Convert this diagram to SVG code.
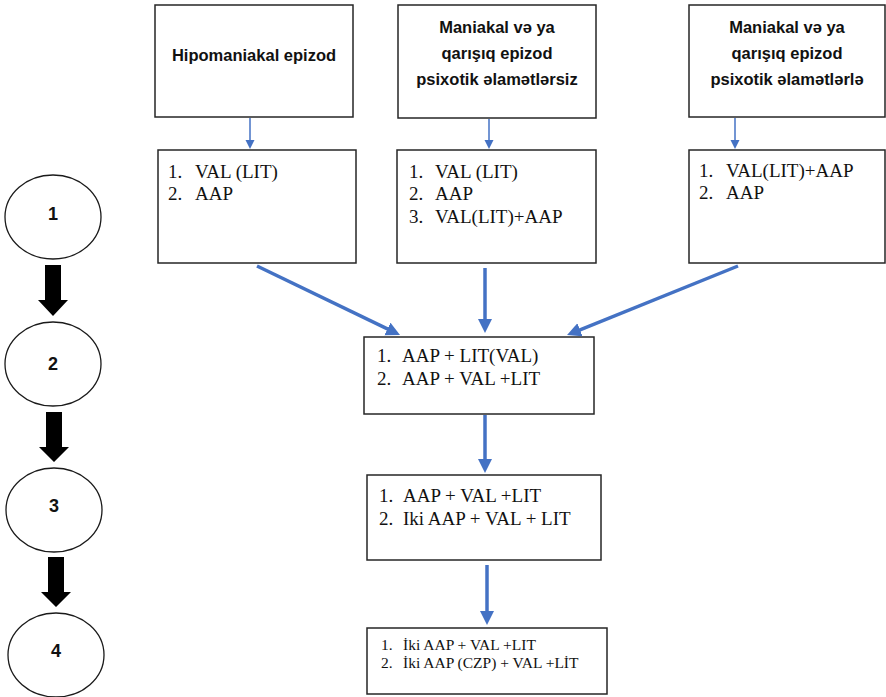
<svg xmlns="http://www.w3.org/2000/svg" width="886" height="697" viewBox="0 0 886 697">
<style>
.box{fill:#fff;stroke:#262626;stroke-width:1.5}
.ell{fill:#fff;stroke:#1a1a1a;stroke-width:1.3}
.hd{font-family:"Liberation Sans",Arial,sans-serif;font-weight:bold;font-size:16.5px;fill:#111;text-anchor:middle}
.num{font-family:"Liberation Sans",Arial,sans-serif;font-weight:bold;font-size:18px;fill:#111;text-anchor:middle}
.tx{font-family:"Liberation Serif","Times New Roman",serif;font-size:19px;fill:#111}
.tx4{font-family:"Liberation Serif","Times New Roman",serif;font-size:15.5px;fill:#111}
.thin{stroke:#4472C4;stroke-width:1.5;fill:none}
.thick{stroke:#4472C4;stroke-width:3.5;fill:none}
.blk{fill:#000}
</style>
<defs>
<marker id="ahs" markerUnits="userSpaceOnUse" markerWidth="10" markerHeight="10" refX="6" refY="4.5" orient="auto"><path d="M0,0 L9,4.5 L0,9 z" fill="#4472C4"/></marker>
<marker id="ahb" markerUnits="userSpaceOnUse" markerWidth="16" markerHeight="16" refX="4" refY="7" orient="auto"><path d="M0,0 L14,7 L0,14 z" fill="#4472C4"/></marker>
</defs>

<g id="stage1"><ellipse class="ell" cx="53" cy="217" rx="48" ry="42"/><text class="num" x="53" y="220">1</text></g>
<g id="stage2"><ellipse class="ell" cx="53" cy="364" rx="48" ry="42"/><text class="num" x="53" y="370">2</text></g>
<g id="stage3"><ellipse class="ell" cx="54" cy="510" rx="48" ry="42"/><text class="num" x="54" y="512">3</text></g>
<g id="stage4"><ellipse class="ell" cx="56" cy="655" rx="48" ry="42"/><text class="num" x="56" y="657">4</text></g>

<g id="hipo"><rect class="box" x="155" y="5" width="198" height="112"/><text class="hd" x="254" y="61">Hipomaniakal epizod</text></g>
<g id="manik1"><rect class="box" x="398" y="5" width="198" height="113"/>
<text class="hd" x="497" y="33">Maniakal və ya</text><text class="hd" x="497" y="59">qarışıq epizod</text><text class="hd" x="497" y="85">psixotik əlamətlərsiz</text></g>
<g id="manik2"><rect class="box" x="689" y="5" width="196" height="112"/>
<text class="hd" x="787" y="33">Maniakal və ya</text><text class="hd" x="787" y="59">qarışıq epizod</text><text class="hd" x="787" y="85">psixotik əlamətlərlə</text></g>

<g id="treatA"><rect class="box" x="158" y="150" width="198" height="113"/>
<text class="tx" x="168" y="178">1.</text><text class="tx" x="195" y="178">VAL (LIT)</text>
<text class="tx" x="168" y="200">2.</text><text class="tx" x="195" y="200">AAP</text></g>
<g id="treatB"><rect class="box" x="397" y="150" width="199" height="113"/>
<text class="tx" x="409" y="178">1.</text><text class="tx" x="435" y="178">VAL (LIT)</text>
<text class="tx" x="409" y="200">2.</text><text class="tx" x="435" y="200">AAP</text>
<text class="tx" x="409" y="223">3.</text><text class="tx" x="435" y="223">VAL(LIT)+AAP</text></g>
<g id="treatC"><rect class="box" x="689" y="150" width="196" height="113"/>
<text class="tx" x="699" y="177">1.</text><text class="tx" x="726" y="177">VAL(LIT)+AAP</text>
<text class="tx" x="699" y="199">2.</text><text class="tx" x="726" y="199">AAP</text></g>

<g id="step2"><rect class="box" x="364" y="337" width="230" height="77"/>
<text class="tx" x="377" y="362">1.</text><text class="tx" x="402" y="362">AAP + LIT(VAL)</text>
<text class="tx" x="377" y="385">2.</text><text class="tx" x="402" y="385">AAP + VAL +LIT</text></g>
<g id="step3"><rect class="box" x="367" y="475" width="234" height="85"/>
<text class="tx" x="379" y="502">1.</text><text class="tx" x="403" y="502">AAP + VAL +LIT</text>
<text class="tx" x="379" y="525">2.</text><text class="tx" x="403" y="525">Iki AAP + VAL + LIT</text></g>
<g id="step4"><rect class="box" x="367" y="628" width="240" height="66"/>
<text class="tx4" x="381" y="650">1.</text><text class="tx4" x="403" y="650">İki AAP + VAL +LIT</text>
<text class="tx4" x="381" y="668">2.</text><text class="tx4" x="403" y="668">İki AAP (CZP) + VAL +LİT</text></g>

<g id="connectors">
<line class="thin" x1="250" y1="118" x2="250" y2="146" marker-end="url(#ahs)"/>
<line class="thin" x1="489" y1="119" x2="489" y2="146" marker-end="url(#ahs)"/>
<line class="thin" x1="735" y1="118" x2="735" y2="146" marker-end="url(#ahs)"/>
<line class="thick" x1="257" y1="266" x2="391" y2="330.7" marker-end="url(#ahb)"/>
<line class="thick" x1="485" y1="268" x2="485" y2="323" marker-end="url(#ahb)"/>
<line class="thick" x1="738" y1="266" x2="576.3" y2="331.3" marker-end="url(#ahb)"/>
<line class="thick" x1="485" y1="415" x2="485" y2="463" marker-end="url(#ahb)"/>
<line class="thick" x1="487" y1="565" x2="487" y2="615" marker-end="url(#ahb)"/>
<polygon class="blk" points="45,265 61,265 61,300 68,300 53,316 38,300 45,300"/>
<polygon class="blk" points="46,412 62,412 62,447 69,447 54,462 39,447 46,447"/>
<polygon class="blk" points="48,557 64,557 64,592 71,592 56,607 41,592 48,592"/>
</g>
</svg>
